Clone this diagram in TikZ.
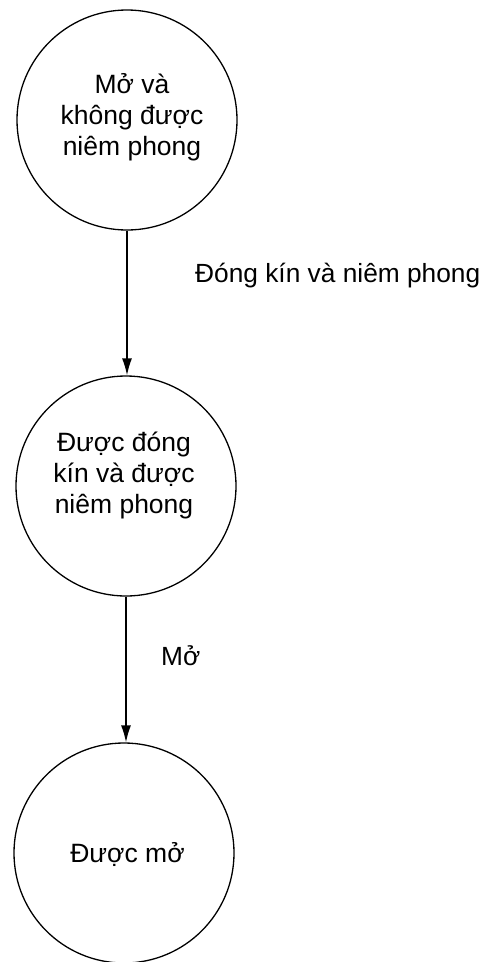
\documentclass[tikz,border=0pt]{standalone}
\usepackage{fontspec}
\setmainfont{Liberation Sans}
\usetikzlibrary{arrows.meta}
\begin{document}
\begin{tikzpicture}[x=1pt,y=-1pt,
  state/.style={circle,draw,line width=1.3pt,minimum size=220pt,inner sep=0pt},
  statetext/.style={align=center,inner sep=0pt,font=\fontsize{26.5}{31}\selectfont},
  edgelabel/.style={inner sep=0pt,font=\fontsize{26.3}{31}\selectfont},
  flow/.style={line width=1.4pt,-{Latex[length=17pt,width=10pt]}}]
  \useasboundingbox (0,0) rectangle (486,962);
  % states
  \node[state] (c1) at (127,120) {};
  \node[state] (c2) at (126,486) {};
  \node[state] (c3) at (124,853) {};
  \node[statetext] (t1) at (132,117) {Mở và\\không được\\niêm phong};
  \node[statetext] (t2) at (124,475) {Được đóng\\kín và được\\niêm phong};
  \node[statetext] (t3) at (127.5,854) {Được mở};
  % transitions
  \draw[flow] (c1.south) -- (c1.south |- c2.north);
  \draw[flow] (c2.south) -- (c2.south |- c3.north);
  \node[edgelabel,anchor=base west] (l1) at (195,282) {Đóng kín và niêm phong};
  \node[edgelabel,anchor=base west] (l2) at (161,665) {Mở};
\end{tikzpicture}
\end{document}
